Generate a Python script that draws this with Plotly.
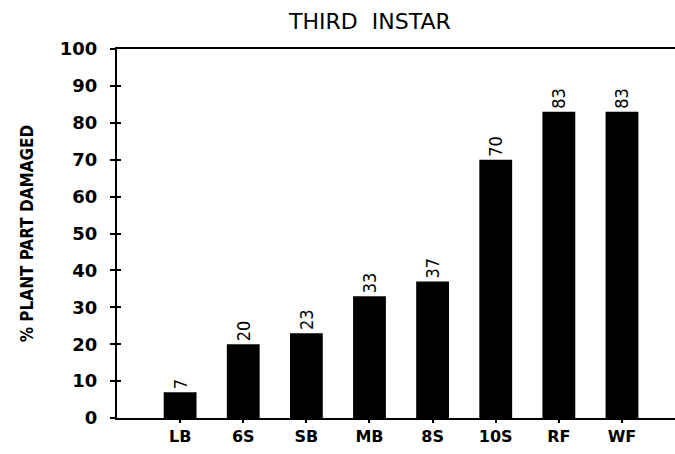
import plotly.graph_objects as go

categories = ["LB", "6S", "SB", "MB", "8S", "10S", "RF", "WF"]
damage = [7, 20, 23, 33, 37, 70, 83, 83]
y_ticks = [0, 10, 20, 30, 40, 50, 60, 70, 80, 90, 100]

fig = go.Figure()
fig.add_trace(go.Bar(
    x=list(range(len(categories))), y=damage,
    marker=dict(color="black", line=dict(width=0)),
    width=0.52,
    text=[str(v) for v in damage], textposition="outside",
    textangle=-90,
    textfont=dict(family="DejaVu Sans Condensed, sans-serif", size=18, color="black"),
    cliponaxis=False,
))
fig.add_trace(go.Scatter(x=[0], y=[0], yaxis="y2", mode="markers",
                         marker=dict(opacity=0), hoverinfo="skip", showlegend=False))

fig.update_layout(
    width=675, height=454,
    margin=dict(l=117, r=0, t=49, b=36, autoexpand=False),
    paper_bgcolor="white", plot_bgcolor="white",
    showlegend=False,
    title=dict(text="THIRD  INSTAR", x=0.548, xanchor="center", y=0.952, yanchor="middle",
               font=dict(family="DejaVu Sans, sans-serif", size=22, color="black")),
    xaxis=dict(
        range=[-1.0, 7.84],
        tickmode="array", tickvals=list(range(len(categories))), ticktext=categories,
        ticks="outside", ticklen=3, tickwidth=1.5, tickcolor="black",
        tickfont=dict(family="DejaVu Sans, sans-serif", size=16, color="black", weight="bold"),
        showline=True, linecolor="black", linewidth=2, mirror=True,
        showgrid=False, zeroline=False,
    ),
    yaxis=dict(
        range=[0, 100],
        tickmode="array", tickvals=y_ticks,
        ticks="outside", ticklen=5, tickwidth=1.5, tickcolor="black",
        ticklabelstandoff=9,
        tickfont=dict(family="DejaVu Sans, sans-serif", size=18, color="black", weight="bold"),
        showline=True, linecolor="black", linewidth=2,
        showgrid=False, zeroline=False,
    ),
    yaxis2=dict(
        range=[0, 100], overlaying="y", side="left",
        tickmode="array", tickvals=y_ticks, showticklabels=False,
        ticks="inside", ticklen=4, tickwidth=1.5, tickcolor="black",
        showline=False, showgrid=False, zeroline=False,
    ),
    annotations=[dict(
        text="% PLANT PART DAMAGED", textangle=-90,
        xref="paper", yref="paper", x=-0.161, y=0.501,
        xanchor="center", yanchor="middle", showarrow=False,
        font=dict(family="DejaVu Sans Condensed, sans-serif", size=17, color="black", weight="bold"),
    )],
)

fig.write_html(
    "out.html",
    config={"displayModeBar": False},
    post_script="document.body.style.margin='0';document.body.style.overflow='hidden';",
)
